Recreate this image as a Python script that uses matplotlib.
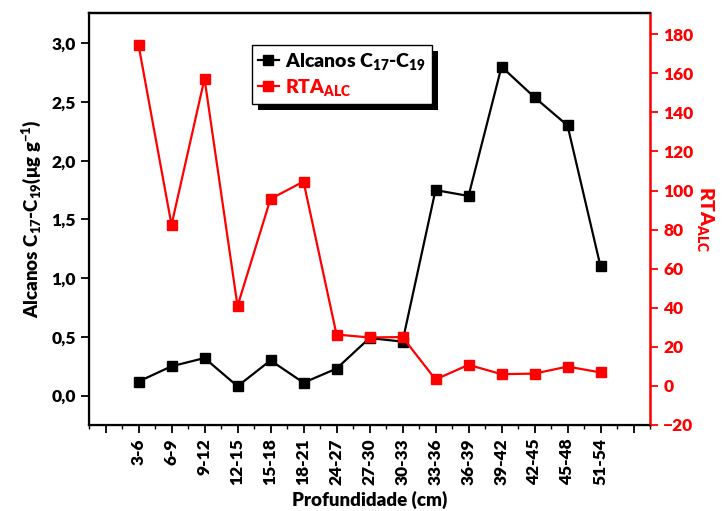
import numpy as np
import matplotlib
matplotlib.use("Agg")
import matplotlib.pyplot as plt
from matplotlib.ticker import FuncFormatter, MultipleLocator
from matplotlib.patches import Rectangle

plt.rcParams['font.family'] = ['Lato', 'DejaVu Sans']
plt.rcParams['font.weight'] = 'heavy'
plt.rcParams['mathtext.fontset'] = 'custom'
plt.rcParams['mathtext.rm'] = 'Lato:heavy'
plt.rcParams['mathtext.bf'] = 'Lato:heavy'
plt.rcParams['mathtext.it'] = 'Lato:heavy'
plt.rcParams['mathtext.default'] = 'bf'

depths = ["3-6", "6-9", "9-12", "12-15", "15-18", "18-21", "24-27", "27-30",
          "30-33", "33-36", "36-39", "39-42", "42-45", "45-48", "51-54"]
alcanos = [0.12, 0.25, 0.32, 0.08, 0.30, 0.11, 0.23, 0.49,
           0.46, 1.75, 1.70, 2.80, 2.54, 2.30, 1.10]
rta_alc = [174.5, 82.4, 157.3, 40.9, 95.7, 104.6, 26.3, 24.8,
           25.0, 3.3, 10.8, 6.0, 6.3, 9.9, 6.9]

x = np.arange(1, len(depths) + 1)

fig = plt.figure(figsize=(7.22, 5.11), dpi=100)
ax = fig.add_axes([0.1233, 0.1683, 0.777, 0.8068])
ax2 = ax.twinx()

l1, = ax.plot(x, alcanos, color='black', lw=1.6, marker='s', ms=6.5,
              mec='black', label=r'Alcanos C$_{17}$-C$_{19}$')
l2, = ax2.plot(x, rta_alc, color='red', lw=1.6, marker='s', ms=6.5,
               mec='red', label=r'RTA$_{ALC}$')

ax.set_xlim(-0.5, 16.5)
ax.set_ylim(-0.25, 3.26)
ax2.set_ylim(-20, 191)

ax.set_xticks(np.arange(0, 17))
ax.set_xticklabels([""] + depths + [""], rotation=90, fontsize=12.5, fontweight='heavy')
ax.xaxis.set_minor_locator(MultipleLocator(0.5))
ax.tick_params(axis='x', which='major', direction='out', length=6, width=1.3, top=False)
ax.tick_params(axis='x', which='minor', direction='out', length=3, width=1.0, top=False)

ax.set_yticks(np.arange(0, 3.01, 0.5))
ax.yaxis.set_major_formatter(FuncFormatter(lambda v, p: f"{v:.1f}".replace('.', ',')))
ax.tick_params(axis='y', which='major', direction='out', length=6, width=1.3,
               labelsize=12.5)
for lbl in ax.get_yticklabels():
    lbl.set_fontweight('heavy')

ax2.set_yticks(np.arange(-20, 181, 20))
ax2.tick_params(axis='y', colors='red', direction='out', length=6, width=1.3,
                labelsize=12.5)
for lbl in ax2.get_yticklabels():
    lbl.set_fontweight('heavy')

for side in ['left', 'bottom', 'top']:
    ax.spines[side].set_linewidth(1.6)
ax2.spines['right'].set_color('red')
ax2.spines['right'].set_linewidth(1.8)
ax2.spines['top'].set_linewidth(1.6)

ax.set_xlabel('Profundidade (cm)', fontsize=13.5, fontweight='heavy', labelpad=4)
ax.set_ylabel(r'Alcanos C$_{17}$-C$_{19}$($\mu$g g$^{-1}$)', fontsize=13.5,
              fontweight='heavy', labelpad=6)
ax2.set_ylabel(r'RTA$_{ALC}$', fontsize=14, fontweight='heavy', color='red',
               rotation=270, labelpad=16)

leg = ax2.legend(handles=[l1, l2], loc='upper left',
                 bbox_to_anchor=(251.7 / 722, 1 - 45 / 511),
                 bbox_transform=fig.transFigure, fontsize=14,
                 handlelength=1.1, handletextpad=0.3, borderpad=0.3,
                 borderaxespad=0, labelspacing=0.25, fancybox=False,
                 edgecolor='black', framealpha=1)
leg.get_frame().set_linewidth(1.0)
for txt, c in zip(leg.get_texts(), ['black', 'red']):
    txt.set_color(c)
    txt.set_fontweight('heavy')

# black drop shadow behind the legend box
fig.canvas.draw()
bb = leg.get_window_extent().transformed(fig.transFigure.inverted())
shadow = Rectangle((bb.x0 + 6 / 722, bb.y0 - 6 / 511), bb.width, bb.height,
                   transform=fig.transFigure, facecolor='black',
                   edgecolor='none', zorder=leg.get_zorder() - 0.1)
ax2.add_artist(shadow)
shadow.set_clip_on(False)

fig.savefig('out.png', dpi=100)
